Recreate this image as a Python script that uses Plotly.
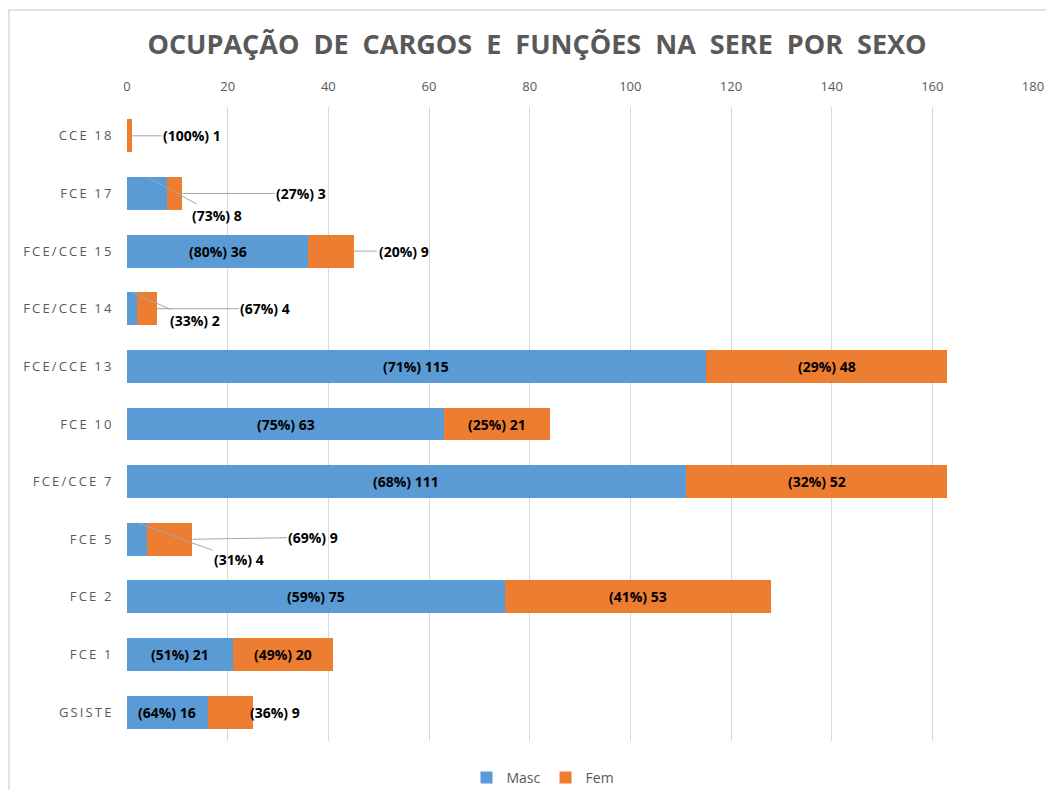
import plotly.graph_objects as go

categories = ["CCE 18", "FCE 17", "FCE/CCE 15", "FCE/CCE 14", "FCE/CCE 13",
              "FCE 10", "FCE/CCE 7", "FCE 5", "FCE 2", "FCE 1", "GSISTE"]
masc = [0, 8, 36, 2, 115, 63, 111, 4, 75, 21, 16]
fem = [1, 3, 9, 4, 48, 21, 52, 9, 53, 20, 9]
x_ticks = [0, 20, 40, 60, 80, 100, 120, 140, 160, 180]

C_MASC = "#5B9BD5"
C_FEM = "#ED7D31"
GRAY = "#595959"
FONT = "Open Sans"

# label placement (style): leader-line labels as (anchor, ax px, ay px)
leader = {
    ("CCE 18", "fem"): ("end", 60, 0),
    ("FCE 17", "fem"): ("end", 119, 0),
    ("FCE 17", "masc"): ("top", 70, 38),
    ("FCE/CCE 15", "fem"): ("end", 50, 0),
    ("FCE/CCE 14", "masc"): ("top", 63, 28),
    ("FCE/CCE 14", "fem"): ("end", 108, 0),
    ("FCE 5", "masc"): ("top", 102, 37),
    ("FCE 5", "fem"): ("end", 121, -2),
}
shift = {("GSISTE", "fem"): 45}

def spaced(s):
    return "\u2009".join(s)

bargap = 0.43
half = (1 - bargap) / 2

W, H = 1038, 782
L, T = 119, 99
PW, PH = 906, 634

fig = go.Figure()
fig.add_trace(go.Bar(y=categories, x=masc, orientation="h", name="Masc",
                     marker=dict(color=C_MASC, line=dict(width=0))))
fig.add_trace(go.Bar(y=categories, x=fem, orientation="h", name="Fem",
                     marker=dict(color=C_FEM, line=dict(width=0))))

annots = []
lblfont = dict(family=FONT, size=14, color="#000000")
for i, cat in enumerate(categories):
    m, f = masc[i], fem[i]
    tot = m + f
    for key, val, start in (("masc", m, 0), ("fem", f, m)):
        if val == 0:
            continue
        txt = f"<b>({round(100 * val / tot)}%) {val}</b>"
        if (cat, key) in leader:
            anchor, ax, ay = leader[(cat, key)]
            if anchor == "end":
                px, py = start + val, i
            else:
                px, py = start + val / 2, i - half
            annots.append(dict(x=px, y=py, xref="x", yref="y", text=txt,
                               showarrow=True, arrowhead=0, arrowwidth=1,
                               arrowcolor="#A6A6A6", standoff=0, ax=ax, ay=ay,
                               font=lblfont))
        else:
            annots.append(dict(x=start + val / 2, y=i, xref="x", yref="y",
                               text=txt, showarrow=False, font=lblfont,
                               xshift=shift.get((cat, key), 0)))

fig.update_layout(
    barmode="stack",
    bargap=bargap,
    width=W, height=H,
    margin=dict(l=L, r=W - L - PW, t=T, b=H - T - PH, autoexpand=False),
    paper_bgcolor="white", plot_bgcolor="white",
    title=dict(text="OCUPAÇÃO  DE  CARGOS  E  FUNÇÕES  NA  SERE  POR  SEXO",
               x=529 / W, xref="container", xanchor="center",
               y=1 - 37 / H, yref="container", yanchor="middle",
               font=dict(family=FONT, size=27, color=GRAY, weight="bold")),
    xaxis=dict(side="top", range=[0, 180], tickvals=x_ticks,
               showgrid=True, gridcolor="#D9D9D9", gridwidth=1,
               zeroline=False, showline=False, automargin=False,
               ticks="outside", ticklen=10, tickcolor="rgba(0,0,0,0)",
               tickfont=dict(family=FONT, size=13, color=GRAY)),
    yaxis=dict(autorange="reversed", categoryorder="array", categoryarray=categories,
               tickvals=categories, ticktext=[spaced(c) for c in categories],
               showgrid=False, zeroline=False, showline=False, automargin=False,
               ticks="outside", ticklen=12, tickcolor="rgba(0,0,0,0)",
               tickfont=dict(family=FONT, size=13, color=GRAY)),
    legend=dict(orientation="h", x=535 / W, xref="container", xanchor="center",
                y=1 - 770 / H, yref="container", yanchor="middle",
                font=dict(family=FONT, size=14, color=GRAY), traceorder="normal",
                itemwidth=30),
    annotations=annots,
    shapes=[dict(type="rect", xref="paper", yref="paper",
                 x0=(1 - L) / PW, x1=(W + 20 - L) / PW,
                 y0=(T + PH - H - 20) / PH, y1=(T + PH - 2) / PH,
                 line=dict(color="#D9D9D9", width=1.5), layer="below")],
)

fig.write_html("out.html")
